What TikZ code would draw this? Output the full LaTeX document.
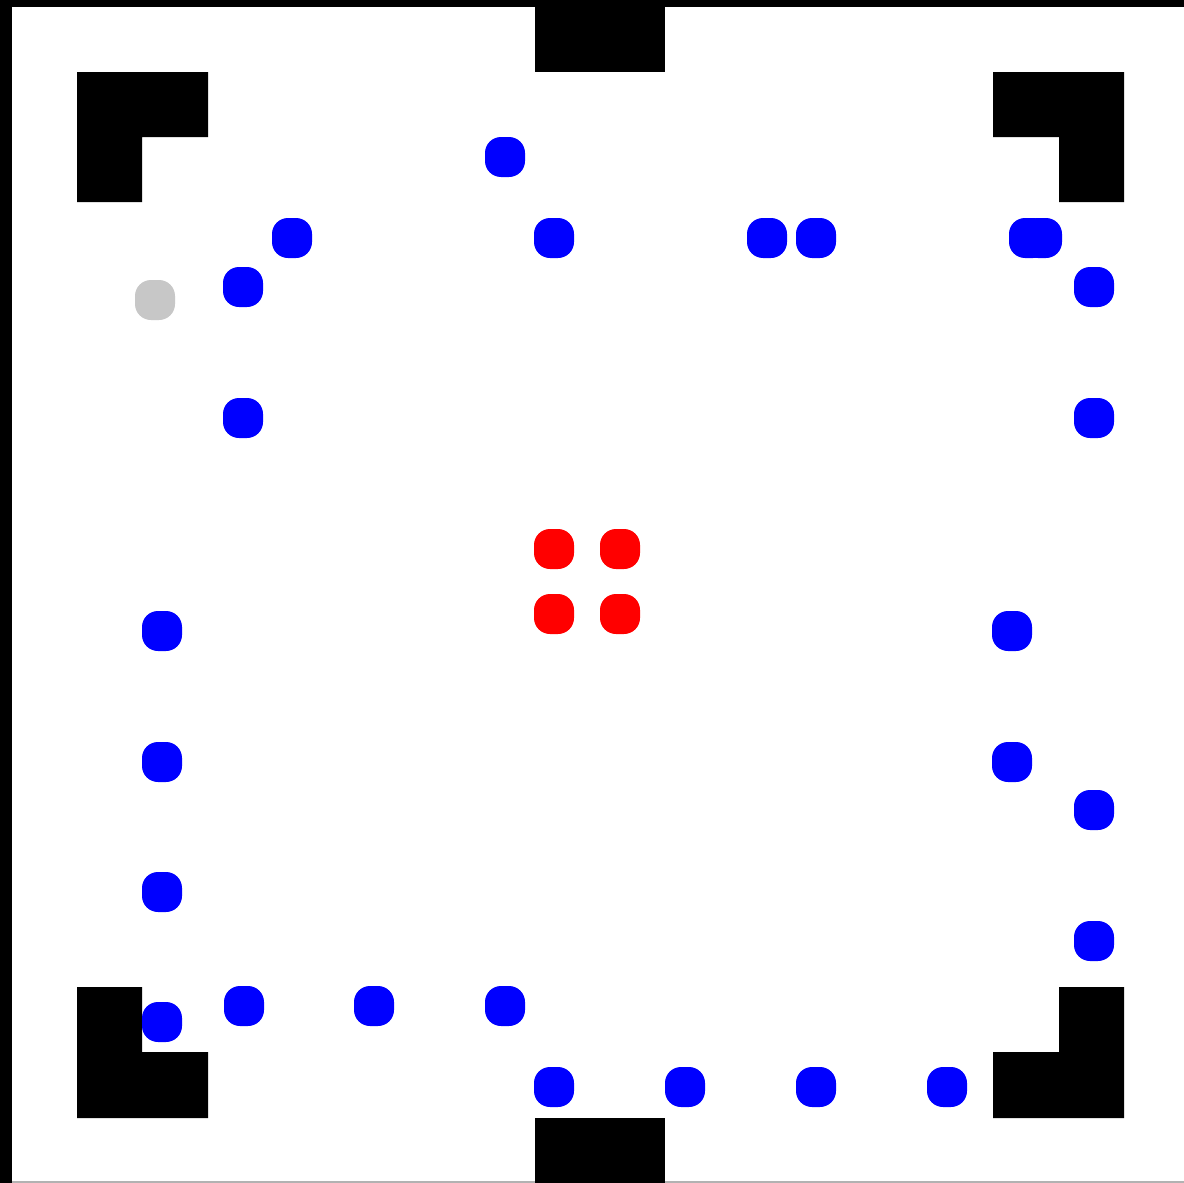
\documentclass[tikz,border=0pt]{standalone}
\usepackage{tikz}

\tikzset{
  wall/.style={fill=black},
  bluedot/.style={fill=blue, rounded corners=16pt},
  reddot/.style={fill=red, rounded corners=16pt},
  greydot/.style={fill=black!22, rounded corners=16pt}
}

\begin{document}
\begin{tikzpicture}[x=1pt, y=-1pt]
  \useasboundingbox (0,0) rectangle (1184,1183);
  \fill[white] (0,0) rectangle (1184,1183);
  % outer border
  \fill[wall] (0,0) rectangle (12,1183);
  \fill[wall] (0,0) rectangle (1184,7);
  \draw[black!30, line width=1.5pt] (12,1182) -- (1184,1182);
  % gates
  \fill[wall] (535,0) rectangle (665,72);
  \fill[wall] (535,1118) rectangle (665,1183);
  % corner pieces
  \fill[wall] (77,72) -- (208,72) -- (208,137) -- (142,137) -- (142,202) -- (77,202) -- cycle;
  \fill[wall] (993,72) -- (1124,72) -- (1124,202) -- (1059,202) -- (1059,137) -- (993,137) -- cycle;
  \fill[wall] (77,987) -- (142,987) -- (142,1052) -- (208,1052) -- (208,1118) -- (77,1118) -- cycle;
  \fill[wall] (1059,987) -- (1124,987) -- (1124,1118) -- (993,1118) -- (993,1052) -- (1059,1052) -- cycle;
  % robots
  \foreach \x/\y in {505/157, 292/238, 554/238, 767/238, 816/238, 1029/238, 1042/238,
                     243/287, 1094/287, 243/418, 1094/418,
                     162/631, 1012/631, 162/762, 1012/762, 1094/810,
                     162/892, 1094/941, 244/1006, 374/1006, 505/1006, 162/1022,
                     554/1087, 685/1087, 816/1087, 947/1087}
    \fill[bluedot] (\x-20,\y-20) rectangle (\x+20,\y+20);
  \foreach \x/\y in {554/549, 620/549, 554/614, 620/614}
    \fill[reddot] (\x-20,\y-20) rectangle (\x+20,\y+20);
  \fill[greydot] (135,280) rectangle (175,320);
\end{tikzpicture}
\end{document}
